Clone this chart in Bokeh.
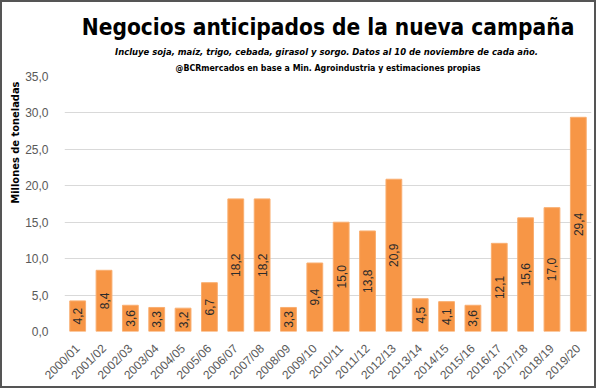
import math
from bokeh.plotting import figure
from bokeh.models import ColumnDataSource, Range1d, FactorRange, FixedTicker, Title
from bokeh.core.properties import value
from bokeh.embed import file_html
from bokeh.resources import INLINE

campaigns = ["2000/01", "2001/02", "2002/03", "2003/04", "2004/05", "2005/06", "2006/07",
             "2007/08", "2008/09", "2009/10", "2010/11", "2011/12", "2012/13", "2013/14",
             "2014/15", "2015/16", "2016/17", "2017/18", "2018/19", "2019/20"]
volumes = [4.2, 8.4, 3.6, 3.3, 3.2, 6.7, 18.2, 18.2, 3.3, 9.4, 15.0, 13.8, 20.9, 4.5,
           4.1, 3.6, 12.1, 15.6, 17.0, 29.4]
y_ticks = [0, 5, 10, 15, 20, 25, 30, 35]
y_tick_labels = ["0,0", "5,0", "10,0", "15,0", "20,0", "25,0", "30,0", "35,0"]

title_text = "Negocios anticipados de la nueva campaña"
subtitle_text = "Incluye soja, maíz, trigo,  cebada, girasol y sorgo. Datos al 10 de noviembre de cada año."
source_text = "@BCRmercados en base a Min. Agroindustria y estimaciones propias"
y_label_text = "Millones de toneladas"

NARROW = "DejaVu Sans Condensed"
BODY = "Liberation Sans"

src = ColumnDataSource(dict(
    x=campaigns,
    top=volumes,
    mid=[v / 2 for v in volumes],
    lab=[f"{v:.1f}".replace(".", ",") for v in volumes],
))

p = figure(x_range=FactorRange(*campaigns, range_padding=0),
           y_range=Range1d(0, 35),
           width=596, height=388,
           min_border_left=62, min_border_right=7, min_border_top=74, min_border_bottom=57,
           output_backend="svg", toolbar_location=None, tools="")
p.styles = {"border": "2px solid #555555"}
p.title.visible = False
p.outline_line_color = None
p.background_fill_color = "white"
p.border_fill_color = "white"

p.vbar(x="x", top="top", width=0.6, source=src,
       fill_color="#F79646", line_color="#F9AE70", line_width=1)
p.text(x="x", y="mid", text="lab", source=src, angle=math.pi / 2,
       text_align="center", text_baseline="middle",
       text_font=value(BODY), text_font_size="12px", text_color="#2b2b2b")

p.xgrid.grid_line_color = None
p.ygrid.grid_line_color = "#d9d9d9"
p.ygrid.ticker = FixedTicker(ticks=y_ticks)

p.yaxis.ticker = FixedTicker(ticks=y_ticks)
p.yaxis.major_label_overrides = dict(zip(y_ticks, y_tick_labels))
p.yaxis.axis_line_color = None
p.yaxis.major_tick_line_color = None
p.yaxis.minor_tick_line_color = None
p.yaxis.major_label_text_font = BODY
p.yaxis.major_label_text_font_size = "12px"
p.yaxis.major_label_text_color = "#595959"
p.yaxis.major_label_standoff = 10

p.xaxis.axis_line_color = None
p.xaxis.major_tick_line_color = None
p.xaxis.major_label_orientation = math.pi / 4
p.xaxis.major_label_text_font = BODY
p.xaxis.major_label_text_font_size = "12px"
p.xaxis.major_label_text_color = "#595959"
p.xaxis.major_label_standoff = 9

# titles: added innermost first
p.add_layout(Title(text=source_text, align="center", text_font=NARROW,
                   text_font_size="8.75px", text_font_style="bold", text_color="black",
                   standoff=8), "above")
p.add_layout(Title(text=subtitle_text, align="center", text_font=NARROW,
                   text_font_size="9.4px", text_font_style="bold italic", text_color="black",
                   standoff=-1), "above")
p.add_layout(Title(text=title_text, align="center", text_font=NARROW,
                   text_font_size="22.5px", text_font_style="bold", text_color="black",
                   standoff=9), "above")
p.add_layout(Title(text=y_label_text, align="right", text_font=NARROW,
                   text_font_size="11px", text_font_style="bold", text_color="black",
                   standoff=2, offset=5), "left")

open("out.html", "w").write(file_html(p, INLINE))
